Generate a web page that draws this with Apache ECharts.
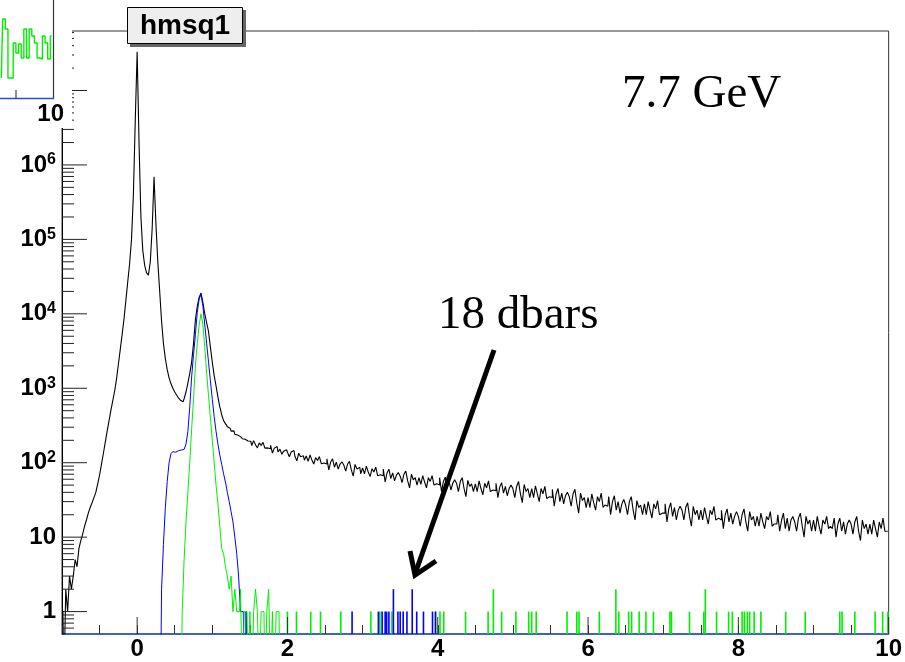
<!DOCTYPE html>
<html><head><meta charset="utf-8">
<script src="https://cdn.jsdelivr.net/npm/echarts@6.0.0/dist/echarts.min.js"></script>
<style>html,body{margin:0;padding:0;background:#fff}#c{width:905px;height:662px}</style>
</head><body><div id="c"></div>
<script>
// ---- axis ranges / ticks ----
const X_MIN = -1, X_MAX = 10, BIN_W = 0.025;
const Y_MIN = 0.5, Y_MAX = 6.3e7;
const FLOOR = 0.1; // empty bins (drawn below the axis minimum, clipped)
const xTickLabels = [0, 2, 4, 6, 8, 10];
const yDecades = [0, 1, 2, 3, 4, 5, 6, 7];

// ---- black: all tracks (bin centers start at -0.9875, width 0.025) ----
const blackFirstCenter = -0.9875;
const blackCounts = [
1,0,2,1,3,2,3,5,4,7,
9,11,14,17,21,25,29,34,40,52,
68,95,132,186,263,363,501,676,912,1318,
2089,3311,5248,8511,15136,26915,47863,100000,398107,3981072,
33113112,1995262,199526,70795,44668,35481,33113,50119,141254,691831,
158489,50119,19953,7943,3981,2512,1778,1380,1148,1000,
891,813,741,692,661,724,891,1175,1585,2239,
3981,8318,12589,16596,19055,14125,10000,7586,5754,3548,
2239,1479,1072,759,562,441,368,335,305,291,
266,268,240,236,224,222,210,207,196,197,
194,170,198,174,158,185,170,188,157,158,
154,172,135,157,165,139,152,130,143,149,
138,120,139,146,121,106,134,120,124,108,
123,104,127,109,96,117,107,121,97,99,
96,113,80,102,113,87,102,82,96,103,
93,77,96,104,80,66,95,82,87,71,
85,71,90,75,65,83,75,87,67,69,
67,82,55,73,82,61,73,57,68,74,
66,54,70,77,57,46,70,59,63,50,
63,51,67,55,46,63,56,67,50,52,
50,63,41,56,64,46,57,43,53,59,
53,41,56,63,45,35,58,48,52,41,
52,41,57,45,37,53,46,57,41,43,
42,53,34,47,54,39,48,36,45,50,
45,34,48,56,38,29,51,41,45,34,
45,34,49,38,30,45,38,48,33,35,
34,44,26,38,45,30,39,28,36,40,
35,26,38,44,29,21,39,31,34,25,
34,25,38,29,23,35,30,39,25,27,
26,35,20,30,36,23,30,21,28,32,
27,20,30,35,23,17,31,25,27,20,
28,20,30,23,18,28,24,31,20,21,
21,28,16,24,29,19,25,17,23,26,
23,17,25,29,19,14,26,20,23,17,
23,17,25,19,15,23,20,26,17,18,
17,23,13,20,24,16,21,15,19,22,
19,14,20,24,16,12,22,17,19,14,
19,14,21,16,13,19,17,22,14,15,
15,20,12,17,21,13,18,12,17,19,
16,12,18,21,14,10,19,15,17,12,
17,12,19,14,11,17,15,19,13,14,
13,18,10,15,18,12,16,11,15,17,
15,11,16,19,12,9,17,13,15,11,
15,11,17,13,10,16,13,18,12,12];

// ---- blue ----
const blueFirstCenter = 0.3375;
const blueCounts = [2,8,25,56,100,132,141,138,145,141,148,151,158,178,263,562,1413,2818,5248,10471,
15849,18197,12589,7079,3981,2239,1259,708,417,263,178,126,95,71,55,40,30,22,16,10,6,3,1,1];
const blueSpikeX = [1.45,2.86,3.21,3.26,3.30,3.32,3.35,3.41,3.47,3.50,3.54,3.59,3.66,3.72,3.81,3.93,3.97];
const blueSpikeN = [1,1,1,1,1,1,1,2,1,1,1,1,2,1,1,1,1];

// ---- green ----
const greenFirstCenter = 0.6125;
const greenCounts = [1,5,16,40,100,282,708,1995,3981,7079,10000,7079,3548,1585,794,398,200,100,50,28,
14,7,6,4,3,2,3,1,2,1,1,2,0,1,1,0,1,0,1,2,1,0,1,1,0,1,2,0,1,0,1,1];
const greenSpikeX = [2.00,2.12,2.31,2.44,2.71,3.11,3.23,3.39,3.97,4.03,4.08,4.37,4.67,4.74,4.85,5.04,5.21,5.25,5.31,
5.72,5.85,5.88,6.15,6.37,6.41,6.54,6.58,6.68,6.77,6.87,7.09,7.11,7.35,7.54,7.56,7.71,7.87,7.92,
8.05,8.08,8.12,8.15,8.21,8.30,8.63,8.89,9.35,9.38,9.55,9.82,9.92,9.99];
const greenSpikeN = [1,1,1,1,1,1,1,1,1,1,1,1,1,2,1,1,1,1,1,
1,1,1,1,2,1,1,1,1,1,1,1,1,1,1,2,1,1,1,
1,1,1,1,1,1,1,1,1,1,1,1,1,1];

// ---- partially visible inset histogram (top-left) ----
const insetCounts = [20,79,69,20,20,55,45,54,40,69,40,69,62,55,40,39,62,55,39,62];

function hist(first, counts, lead, trail) {
  const pts = [];
  if (lead) pts.push([first - BIN_W, FLOOR]);
  counts.forEach((c, i) => pts.push([first + i * BIN_W, c > 0 ? c : FLOOR]));
  if (trail) pts.push([first + counts.length * BIN_W, FLOOR]);
  return pts;
}
function spikes(xs, ns) { return xs.map((x, i) => [x, ns[i]]); }

const yMinor = [];
for (let e = -1; e <= 7; e++) for (let k = 2; k <= 9; k++) {
  const v = k * Math.pow(10, e);
  if (v > Y_MIN && v < Y_MAX) yMinor.push([X_MIN, v]);
}

const chart = echarts.init(document.getElementById('c'), null, {renderer: 'canvas'});
const FONT = 'Liberation Sans, Arial, Helvetica, sans-serif';
const SERIF = 'Liberation Serif, Times New Roman, serif';

function spikeRenderer(color) {
  return function (params, api) {
    const top = api.coord([api.value(0), api.value(1)]);
    const bot = api.coord([api.value(0), Y_MIN]);
    return {type: 'line', shape: {x1: top[0], y1: top[1], x2: bot[0], y2: bot[1]},
      style: {stroke: color, lineWidth: 1.6}};
  };
}

chart.setOption({
  animation: false,
  backgroundColor: '#fff',
  grid: [
    {left: 62, right: 14, top: 31, bottom: 28, show: true, borderColor: '#333', borderWidth: 1, backgroundColor: 'transparent'},
    {left: 0, top: 0, width: 53, height: 98, show: false}
  ],
  xAxis: [
    {type: 'value', gridIndex: 0, min: X_MIN, max: X_MAX, interval: 0.5,
     axisLine: {show: true, onZero: false, lineStyle: {color: '#2450d0', width: 1.5}},
     axisTick: {show: true, inside: true, length: 9, lineStyle: {color: '#333'}},
     splitLine: {show: false},
     axisLabel: {margin: 3, color: '#000', fontFamily: FONT, fontWeight: 'bold', fontSize: 24,
       formatter: v => { const r = Math.round(v); return (Math.abs(v - r) < 1e-9 && r >= 0 && r % 2 === 0) ? String(r) : ''; }}},
    {type: 'value', gridIndex: 1, min: 0, max: insetCounts.length, show: false}
  ],
  yAxis: [
    {type: 'log', logBase: 10, gridIndex: 0, min: Y_MIN, max: Y_MAX,
     axisLine: {show: true, onZero: false, lineStyle: {color: '#000'}},
     axisTick: {show: false}, splitLine: {show: false}, minorTick: {show: false},
     axisLabel: {margin: 6, color: '#000',
       formatter: v => {
         const e = Math.log10(v), r = Math.round(e);
         if (Math.abs(e - r) > 1e-6) return '';
         if (r === 0) return '{b|1}';
         if (r === 1) return '{b|10}';
         return '{b|10}{s|' + r + '}';
       },
       rich: {
         b: {fontFamily: FONT, fontWeight: 'bold', fontSize: 24, lineHeight: 26, color: '#000'},
         s: {fontFamily: FONT, fontWeight: 'bold', fontSize: 16, lineHeight: 16, verticalAlign: 'top', color: '#000'}
       }}},
    {type: 'value', gridIndex: 1, min: 0, max: 98, show: false}
  ],
  series: [
    {name: 'all', type: 'line', step: 'middle', showSymbol: false, symbol: 'none', clip: true,
     data: hist(blackFirstCenter, blackCounts, false, false), lineStyle: {color: '#000', width: 1.1}, z: 3},
    {name: 'blue', type: 'line', step: 'middle', showSymbol: false, symbol: 'none', clip: true,
     data: hist(blueFirstCenter, blueCounts, true, true), lineStyle: {color: '#0000ff', width: 1}, z: 4},
    {name: 'blueSpikes', type: 'custom', coordinateSystem: 'cartesian2d', clip: true,
     data: spikes(blueSpikeX, blueSpikeN), renderItem: spikeRenderer('#0000ff'), z: 4},
    {name: 'green', type: 'line', step: 'middle', showSymbol: false, symbol: 'none', clip: true,
     data: hist(greenFirstCenter, greenCounts, true, true), lineStyle: {color: '#00ee00', width: 1}, z: 5},
    {name: 'greenSpikes', type: 'custom', coordinateSystem: 'cartesian2d', clip: true,
     data: spikes(greenSpikeX, greenSpikeN), renderItem: spikeRenderer('#00ee00'), z: 3.5},
    {name: 'yMajorTicks', type: 'custom', coordinateSystem: 'cartesian2d', silent: true, z: 6,
     data: yDecades.map(e => [X_MIN, Math.pow(10, e)]),
     renderItem: (p, api) => { const c = api.coord([api.value(0), api.value(1)]);
       return {type: 'line', shape: {x1: c[0], y1: c[1], x2: c[0] + 25, y2: c[1]}, style: {stroke: '#222', lineWidth: 1}}; }},
    {name: 'yMinorTicks', type: 'custom', coordinateSystem: 'cartesian2d', silent: true, z: 6,
     data: yMinor,
     renderItem: (p, api) => { const c = api.coord([api.value(0), api.value(1)]);
       return {type: 'line', shape: {x1: c[0], y1: c[1], x2: c[0] + 12, y2: c[1]}, style: {stroke: '#222', lineWidth: 1}}; }},
    {name: 'xMajorTicks', type: 'custom', coordinateSystem: 'cartesian2d', silent: true, z: 6,
     data: xTickLabels.map(v => [v, Y_MIN]),
     renderItem: (p, api) => { const c = api.coord([api.value(0), api.value(1)]);
       return {type: 'line', shape: {x1: c[0], y1: c[1], x2: c[0], y2: c[1] - 17}, style: {stroke: '#333', lineWidth: 1}}; }},
    {name: 'inset', type: 'line', step: 'middle', xAxisIndex: 1, yAxisIndex: 1, showSymbol: false, symbol: 'none',
     data: insetCounts.map((v, i) => [i + 0.5, v]), lineStyle: {color: '#00ee00', width: 1.4}, z: 120}
  ],
  graphic: [
    {type: 'rect', z: 100, shape: {x: 0, y: 0, width: 72, height: 128}, style: {fill: '#fff'}},
    {type: 'line', z: 130, shape: {x1: 53.5, y1: 0, x2: 53.5, y2: 98.5}, style: {stroke: '#333', lineWidth: 1.2}},
    {type: 'line', z: 130, shape: {x1: 0, y1: 98.5, x2: 54, y2: 98.5}, style: {stroke: '#2450d0', lineWidth: 1.5}},
    {type: 'line', z: 130, shape: {x1: 16, y1: 90, x2: 16, y2: 98}, style: {stroke: '#222', lineWidth: 1}},
    {type: 'text', z: 130, style: {text: '10', x: 64, y: 114, textAlign: 'right', textVerticalAlign: 'middle',
      font: 'bold 24px ' + FONT, fill: '#000'}},
    {type: 'rect', z: 140, shape: {x: 130, y: 10, width: 116, height: 37}, style: {fill: '#666'}},
    {type: 'rect', z: 141, shape: {x: 127.5, y: 7.5, width: 115, height: 36}, style: {fill: '#eeeeee', stroke: '#000', lineWidth: 1}},
    {type: 'text', z: 142, style: {text: 'hmsq1', x: 185, y: 26, textAlign: 'center', textVerticalAlign: 'middle',
      font: 'bold 28px ' + FONT, fill: '#000'}},
    {type: 'text', z: 142, style: {text: '7.7 GeV', x: 622, y: 95, textAlign: 'left', textVerticalAlign: 'middle',
      font: '47px ' + SERIF, fill: '#000'}},
    {type: 'text', z: 142, style: {text: '18 dbars', x: 438, y: 316, textAlign: 'left', textVerticalAlign: 'middle',
      font: '47px ' + SERIF, fill: '#000'}},
    {type: 'line', z: 142, shape: {x1: 494, y1: 350, x2: 415, y2: 574}, style: {stroke: '#000', lineWidth: 5}},
    {type: 'polyline', z: 142, shape: {points: [[410, 551], [415, 575], [436, 561]]},
      style: {stroke: '#000', lineWidth: 5, fill: null, lineJoin: 'miter'}}
  ]
});
</script>
</body></html>
